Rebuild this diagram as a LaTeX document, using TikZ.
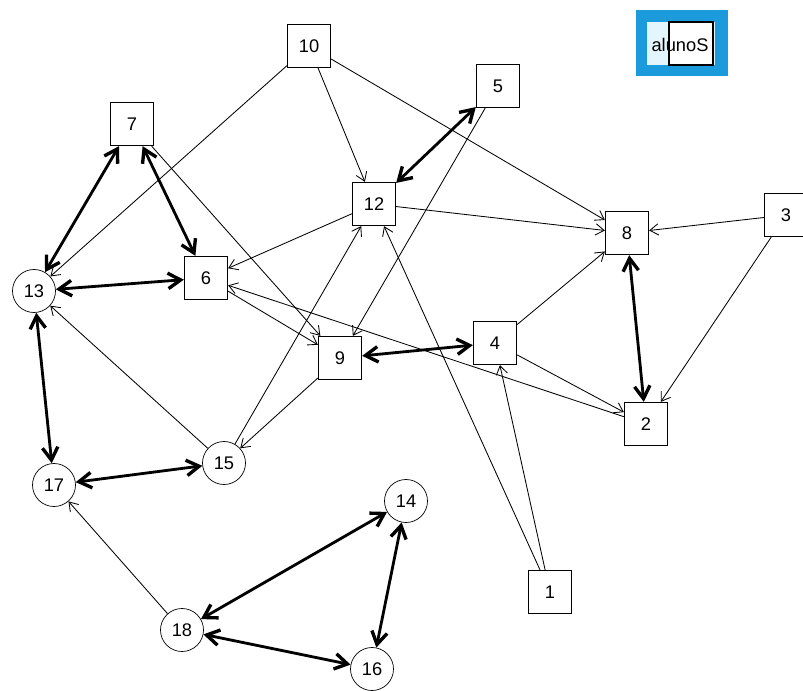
\documentclass[tikz,border=0pt]{standalone}
\usepackage{fontspec}
\setsansfont{Liberation Sans}
\usetikzlibrary{arrows.meta}
\definecolor{legblue}{HTML}{1B9BDB}
\definecolor{legfill}{HTML}{E4F6FD}
\tikzset{
  vert/.style={draw=black,inner sep=0pt,minimum size=1.075cm,
               font=\sffamily\fontsize{13}{15}\selectfont},
  sq/.style={vert,rectangle,line width=0.9pt},
  rnd/.style={vert,circle,line width=0.5pt},
  dir/.style={-{Straight Barb[length=6pt,width=8pt]},line width=0.6pt},
  mut/.style={{Straight Barb[length=9pt,width=11pt,line width=2.4pt]}-{Straight Barb[length=9pt,width=11pt,line width=2.4pt]},
              line width=2pt},
}
\begin{document}
\begin{tikzpicture}[x=0.025cm,y=-0.025cm]
  \useasboundingbox (0,0) rectangle (803,691);
  % legend
  \fill[legblue] (636,10) rectangle (728,76);
  \fill[legfill] (647,22) rectangle (715,65);
  \draw[line width=0.9pt,fill=white] (669,22) rectangle (713,65);
  \node[font=\sffamily\fontsize{13}{15}\selectfont] (leg) at (680,45) {alunoS};
  % vertices
  \node[sq] (v1) at (550,592) {1};
  \node[sq] (v2) at (646,424) {2};
  \node[sq] (v3) at (786,215) {3};
  \node[sq] (v4) at (495,343) {4};
  \node[sq] (v5) at (498,86) {5};
  \node[sq] (v6) at (206,278) {6};
  \node[sq] (v7) at (132,124) {7};
  \node[sq] (v8) at (627,233) {8};
  \node[sq] (v9) at (340,358) {9};
  \node[sq] (v10) at (309,46) {10};
  \node[sq] (v12) at (374,204) {12};
  \node[rnd] (v13) at (34,291) {13};
  \node[rnd] (v14) at (406,501) {14};
  \node[rnd] (v15) at (224,463) {15};
  \node[rnd] (v16) at (372,669) {16};
  \node[rnd] (v17) at (54,485) {17};
  \node[rnd] (v18) at (182,630) {18};
  % one-way links
  \draw[dir] (v10) -- (v13);
  \draw[dir] (v10) -- (v12);
  \draw[dir] (v10) -- (v8);
  \draw[dir] (v5) -- (v9);
  \draw[dir] (v7) -- (v9);
  \draw[dir] (v6) -- (v9);
  \draw[dir] (v12) -- (v6);
  \draw[dir] (v12) -- (v8);
  \draw[dir] (v2) -- (v6);
  \draw[dir] (v3) -- (v8);
  \draw[dir] (v3) -- (v2);
  \draw[dir] (v4) -- (v8);
  \draw[dir] (v4) -- (v2);
  \draw[dir] (v1) -- (v4);
  \draw[dir] (v1) -- (v12);
  \draw[dir] (v15) -- (v12);
  \draw[dir] (v9) -- (v15);
  \draw[dir] (v15) -- (v13);
  \draw[dir] (v18) -- (v17);
  % mutual links
  \draw[mut] (v7) -- (v13);
  \draw[mut] (v7) -- (v6);
  \draw[mut] (v13) -- (v6);
  \draw[mut] (v13) -- (v17);
  \draw[mut] (v17) -- (v15);
  \draw[mut] (v5) -- (v12);
  \draw[mut] (v9) -- (v4);
  \draw[mut] (v8) -- (v2);
  \draw[mut] (v18) -- (v14);
  \draw[mut] (v18) -- (v16);
  \draw[mut] (v14) -- (v16);
\end{tikzpicture}
\end{document}
